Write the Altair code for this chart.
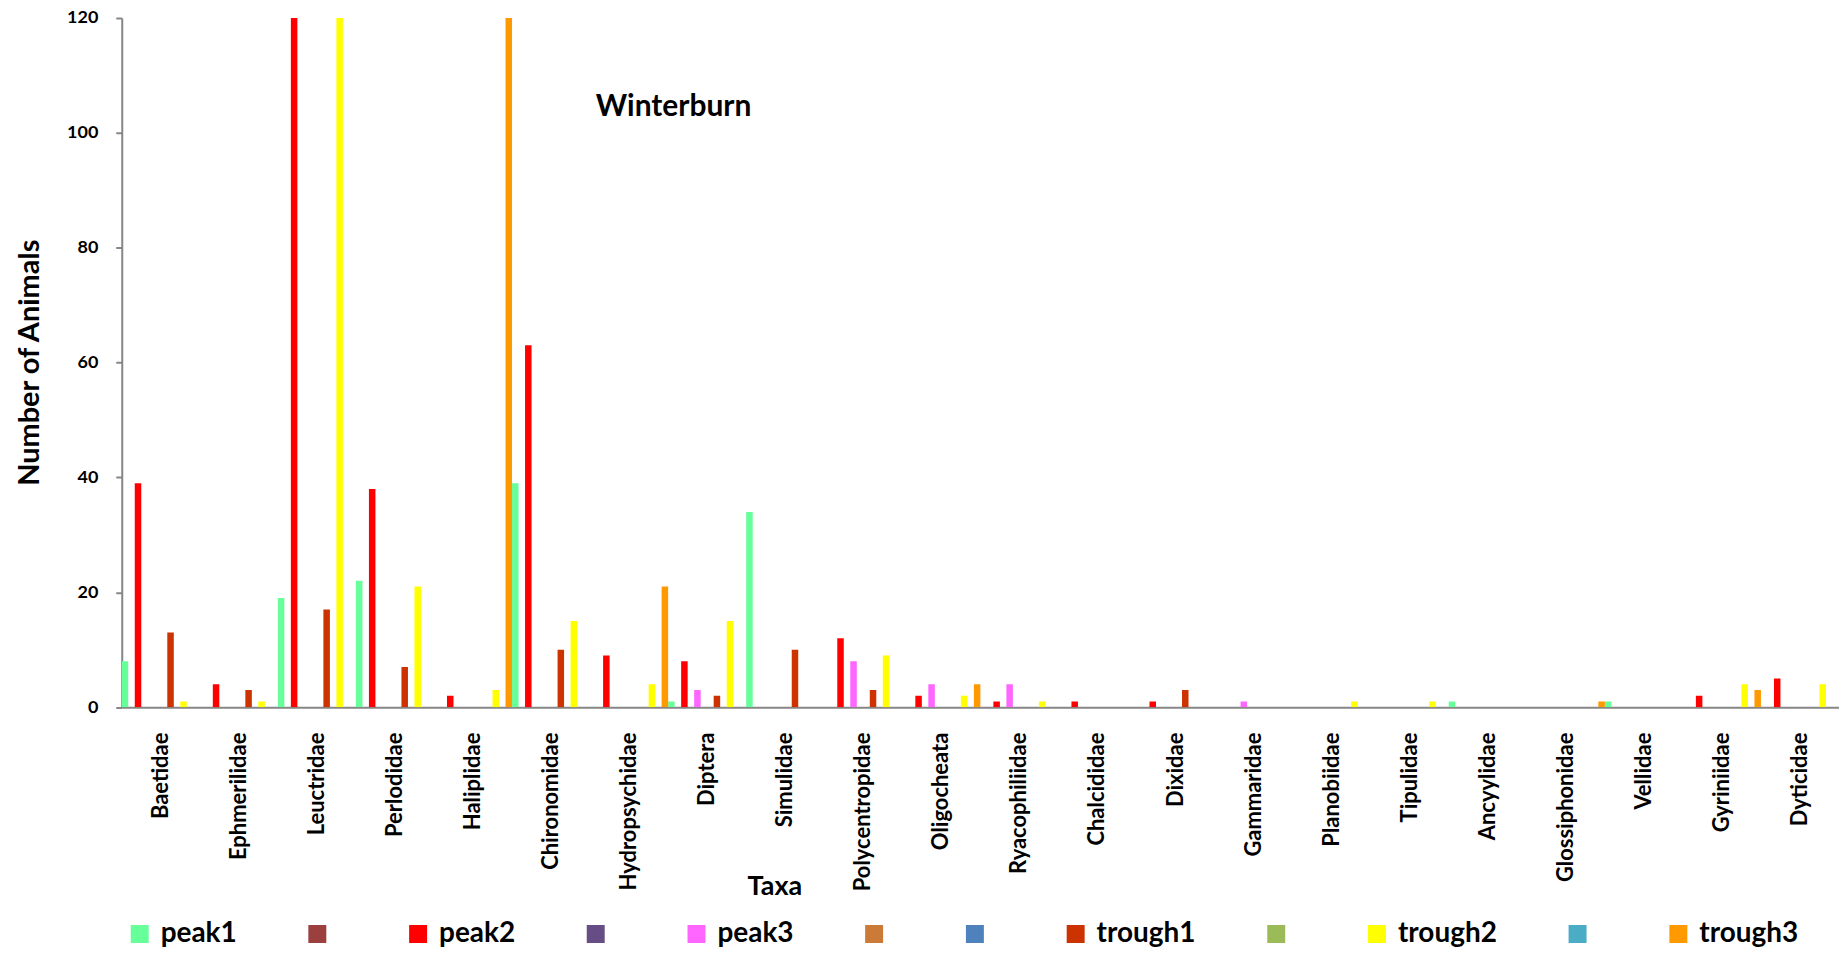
import altair as alt
import pandas as pd

taxa = ["Baetidae", "Ephmerilidae", "Leuctridae", "Perlodidae", "Haliplidae",
        "Chironomidae", "Hydropsychidae", "Diptera", "Simulidae", "Polycentropidae",
        "Oligocheata", "Ryacophiliidae", "Chalcididae", "Dixidae", "Gammaridae",
        "Planobiidae", "Tipulidae", "Ancyylidae", "Glossiphonidae", "Vellidae",
        "Gyriniidae", "Dyticidae"]

peak1 = [8, 0, 19, 22, 0, 39, 0, 1, 34, 0, 0, 0, 0, 0, 0, 0, 0, 1, 0, 1, 0, 0]
peak2 = [39, 4, 150, 38, 2, 63, 9, 8, 0, 12, 2, 1, 1, 1, 0, 0, 0, 0, 0, 0, 2, 5]
peak3 = [0, 0, 0, 0, 0, 0, 0, 3, 0, 8, 4, 4, 0, 0, 1, 0, 0, 0, 0, 0, 0, 0]
trough1 = [13, 3, 17, 7, 0, 10, 0, 2, 10, 3, 0, 0, 0, 3, 0, 0, 0, 0, 0, 0, 0, 0]
trough2 = [1, 1, 150, 21, 3, 15, 4, 15, 0, 9, 2, 1, 0, 0, 0, 1, 1, 0, 0, 0, 4, 4]
trough3 = [0, 0, 0, 0, 150, 0, 21, 0, 0, 0, 4, 0, 0, 0, 0, 0, 0, 0, 1, 0, 3, 0]

# legend order; names starting with "_" are unnamed (blank) series
series_order = ["peak1", "_2", "peak2", "_4", "peak3", "_6", "_7",
                "trough1", "_9", "trough2", "_11", "trough3"]
series_colors = ["#66FF99", "#9B3F3F", "#FF0000", "#664D85", "#FF66FF", "#CC7A38",
                 "#4F81BD", "#CC3300", "#9BBB59", "#FFFF00", "#4BACC6", "#FF9900"]

y_ticks = [0, 20, 40, 60, 80, 100, 120]

named = {"peak1": peak1, "peak2": peak2, "peak3": peak3,
         "trough1": trough1, "trough2": trough2, "trough3": trough3}

rows = []
for name, vals in named.items():
    for t, v in zip(taxa, vals):
        rows.append({"Taxa": t, "Series": name, "Count": v})
df = pd.DataFrame(rows)

bars = alt.Chart(df).mark_bar(clip=True).encode(
    x=alt.X("Taxa:N", sort=taxa,
            scale=alt.Scale(paddingInner=0, paddingOuter=0),
            axis=alt.Axis(title="Taxa", labelAngle=270, labelFont="Lato",
                          labelFontSize=22, labelFontWeight="bold", labelColor="black",
                          labelPadding=25, labelLimit=400, ticks=False,
                          domainColor="#868686", domainWidth=2,
                          titleFont="Lato", titleFontSize=27, titleFontWeight="bold",
                          titleColor="black", titleX=654, titleY=180,
                          titleAlign="center", titleBaseline="middle")),
    xOffset=alt.XOffset("Series:N",
                        scale=alt.Scale(domain=series_order, paddingInner=0, paddingOuter=0)),
    y=alt.Y("Count:Q", scale=alt.Scale(domain=[0, 120], nice=False),
            axis=alt.Axis(values=y_ticks, grid=False, title="Number of Animals",
                          labelFont="Lato", labelFontSize=18, labelFontWeight="bold",
                          labelColor="black", labelPadding=18,
                          tickSize=6, tickWidth=2, tickColor="#868686",
                          domainColor="#868686", domainWidth=2,
                          titleFont="Lato", titleFontSize=29, titleFontWeight="bold",
                          titleColor="black", titleAngle=270, titleX=-92, titleY=345,
                          titleAlign="center", titleBaseline="middle")),
    color=alt.Color("Series:N",
                    scale=alt.Scale(domain=series_order, range=series_colors),
                    legend=alt.Legend(orient="none", legendX=4, legendY=904,
                                      direction="horizontal", columns=12, title=None,
                                      symbolType="square", symbolSize=324,
                                      symbolStrokeWidth=0, symbolOpacity=1,
                                      labelFont="Lato", labelFontSize=28,
                                      labelFontWeight="bold", labelColor="black",
                                      labelOffset=7, columnPadding=66, padding=0,
                                      labelLimit=400,
                                      labelExpr="indexof(datum.label, '_') == 0 ? '' : datum.label")),
)

title = alt.Chart(pd.DataFrame({"t": ["Winterburn"]})).mark_text(
    font="Lato", fontSize=30, fontWeight="bold", color="black",
    align="center", baseline="middle"
).encode(text="t:N", x=alt.value(553), y=alt.value(89))

chart = alt.layer(bars, title).properties(
    width=1721, height=690.7,
    autosize=alt.AutoSizeParams(type="none"),
    padding={"left": 114, "top": 9, "right": 0, "bottom": 240},
    background="white",
).configure_view(stroke=None)

chart.save("out.html", embed_options={"renderer": "svg", "actions": False})
